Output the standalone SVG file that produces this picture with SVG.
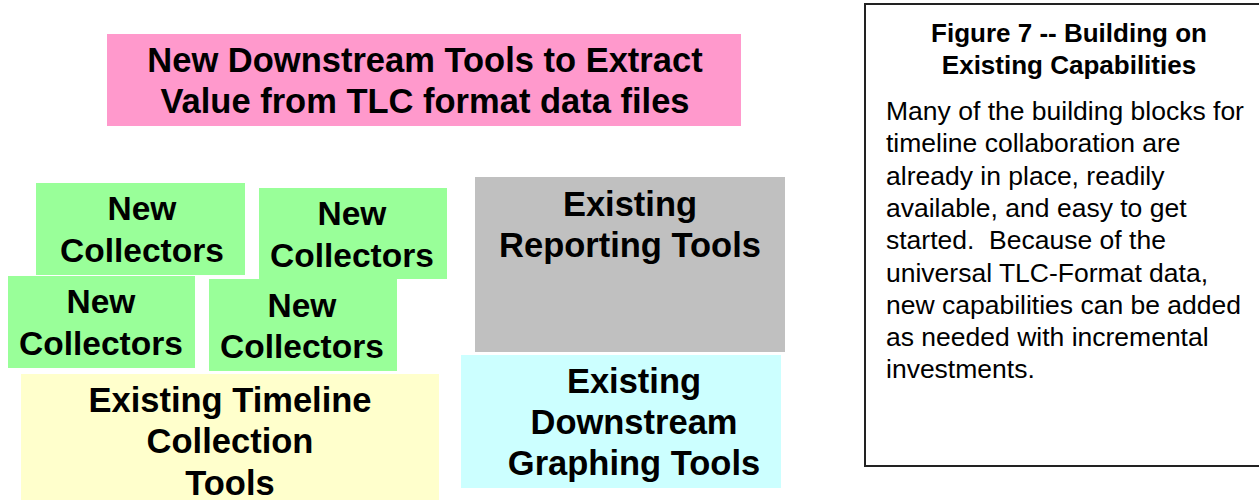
<svg xmlns="http://www.w3.org/2000/svg" width="1259" height="500" viewBox="0 0 1259 500">
<style>
.t{font-family:"Liberation Sans",Arial,sans-serif;font-weight:bold;font-size:34.5px;fill:#000;text-anchor:middle}
.g{font-size:33.5px}
.ct{font-family:"Liberation Sans",Arial,sans-serif;font-weight:bold;font-size:26px;fill:#000;text-anchor:middle}
.cb{font-family:"Liberation Sans",Arial,sans-serif;font-size:26.5px;fill:#000}
</style>
<rect width="1259" height="500" fill="#fff"/>
<g id="pink">
<rect x="107" y="34" width="634" height="92" fill="#FF99CC"/>
<text class="t" x="425" y="72">New Downstream Tools to Extract</text>
<text class="t" x="425" y="113">Value from TLC format data files</text>
</g>
<g id="green1">
<rect x="36" y="183" width="209" height="92" fill="#99FF99"/>
<text class="t g" x="142" y="220">New</text>
<text class="t g" x="142" y="262">Collectors</text>
</g>
<g id="green2">
<rect x="259" y="188" width="188" height="91" fill="#99FF99"/>
<text class="t g" x="352" y="225">New</text>
<text class="t g" x="352" y="267">Collectors</text>
</g>
<g id="green3">
<rect x="8" y="276" width="187" height="92" fill="#99FF99"/>
<text class="t g" x="101" y="313">New</text>
<text class="t g" x="101" y="355">Collectors</text>
</g>
<g id="green4">
<rect x="209" y="279" width="188" height="92" fill="#99FF99"/>
<text class="t g" x="302" y="317">New</text>
<text class="t g" x="302" y="358">Collectors</text>
</g>
<g id="yellow">
<rect x="21" y="374" width="418" height="126" fill="#FFFFCC"/>
<text class="t" x="230" y="412">Existing Timeline</text>
<text class="t" x="230" y="453">Collection</text>
<text class="t" x="230" y="495">Tools</text>
</g>
<g id="gray">
<rect x="475" y="177" width="310" height="175" fill="#C0C0C0"/>
<text class="t" x="630" y="216">Existing</text>
<text class="t" x="630" y="257">Reporting Tools</text>
</g>
<g id="cyan">
<rect x="461" y="355" width="320" height="133" fill="#CCFFFF"/>
<text class="t" x="634" y="393">Existing</text>
<text class="t" x="634" y="434">Downstream</text>
<text class="t" x="634" y="475">Graphing Tools</text>
</g>
<g id="caption">
<rect x="865" y="4" width="400" height="462" fill="#fff" stroke="#222" stroke-width="2"/>
<text class="ct" x="1069" y="42">Figure 7 -- Building on</text>
<text class="ct" x="1069" y="74">Existing Capabilities</text>
<text class="cb" x="886" y="120">Many of the building blocks for</text>
<text class="cb" x="886" y="152">timeline collaboration are</text>
<text class="cb" x="886" y="185">already in place, readily</text>
<text class="cb" x="886" y="217">available, and easy to get</text>
<text class="cb" x="886" y="249" xml:space="preserve">started.  Because of the</text>
<text class="cb" x="886" y="282">universal TLC-Format data,</text>
<text class="cb" x="886" y="314">new capabilities can be added</text>
<text class="cb" x="886" y="346">as needed with incremental</text>
<text class="cb" x="886" y="378">investments.</text>
</g>
<g id="connectors"/>
</svg>
